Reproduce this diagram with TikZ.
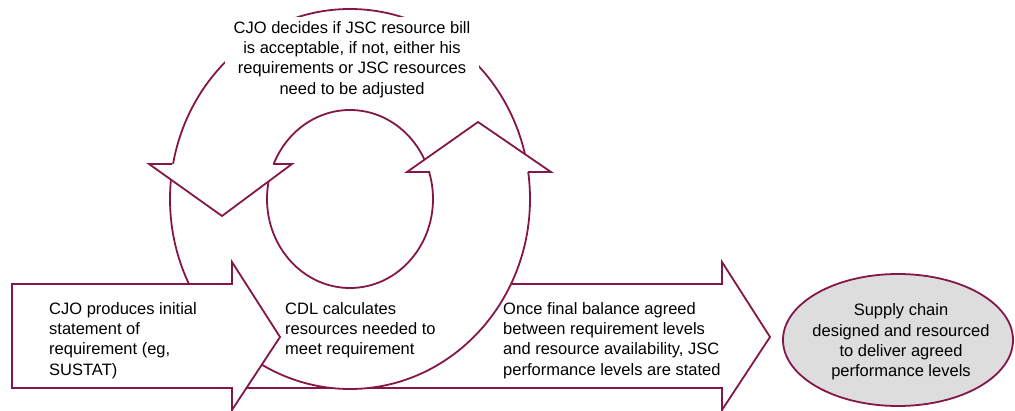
\documentclass[tikz,border=0pt]{standalone}
\usepackage{fontspec}
\setmainfont{Liberation Sans}
\usetikzlibrary{shapes.geometric}
\definecolor{plum}{RGB}{132,22,72}
\definecolor{chaingray}{RGB}{221,221,221}

\begin{document}
\begin{tikzpicture}[x=1pt, y=-1pt,
    every node/.style={font=\fontsize{16.5}{20.3}\selectfont, inner sep=0pt},
    outline/.style={draw=plum, line width=1.8pt, fill=white},
    steptext/.style={anchor=north west, align=left}]
  \useasboundingbox (0,0) rectangle (1015,411);
  % second block arrow, behind the loop
  \draw[outline] (150,284) -- (722,284) -- (722,262) -- (770,337) -- (722,410) -- (722,388) -- (150,388) -- cycle;
  % the loop
  \coordinate (hub) at (350,199);
  \draw[outline] (hub) ellipse [x radius=180pt, y radius=190pt];
  \draw[outline, fill=none] (hub) ellipse [x radius=83pt, y radius=89pt];
  % loop heads
  \draw[outline] (172,164) -- (149,164) -- (222,216) -- (292,164) -- (273,164);
  \draw[outline] (430,172) -- (407,172) -- (478,122) -- (551,172) -- (528,172);
  % first block arrow
  \draw[outline] (12,284) -- (232,284) -- (232,262) -- (280,337) -- (232,410) -- (232,388) -- (12,388) -- cycle;

  \node[fill=white, inner xsep=9pt, inner ysep=4pt, anchor=north, align=center] (decide) at (352,17)
    {CJO decides if JSC resource bill\\is acceptable, if not, either his\\requirements or JSC resources\\need to be adjusted};
  \node[steptext] (cjo) at (49,302) {CJO produces initial\\statement of\\requirement (eg,\\SUSTAT)};
  \node[steptext] (cdl) at (285,302) {CDL calculates\\resources needed to\\meet requirement};
  \node[steptext] (bal) at (503,302) {Once final balance agreed\\between requirement levels\\and resource availability, JSC\\performance levels are stated};

  \node[ellipse, draw=plum, line width=1.8pt, fill=chaingray, minimum width=230pt, minimum height=132pt] (chain) at (898,340) {};
  \node[align=center] (chaintext) at ([xshift=3pt,yshift=-2pt]chain.center)
    {Supply chain\\designed and resourced\\to deliver agreed\\performance levels};
\end{tikzpicture}
\end{document}
